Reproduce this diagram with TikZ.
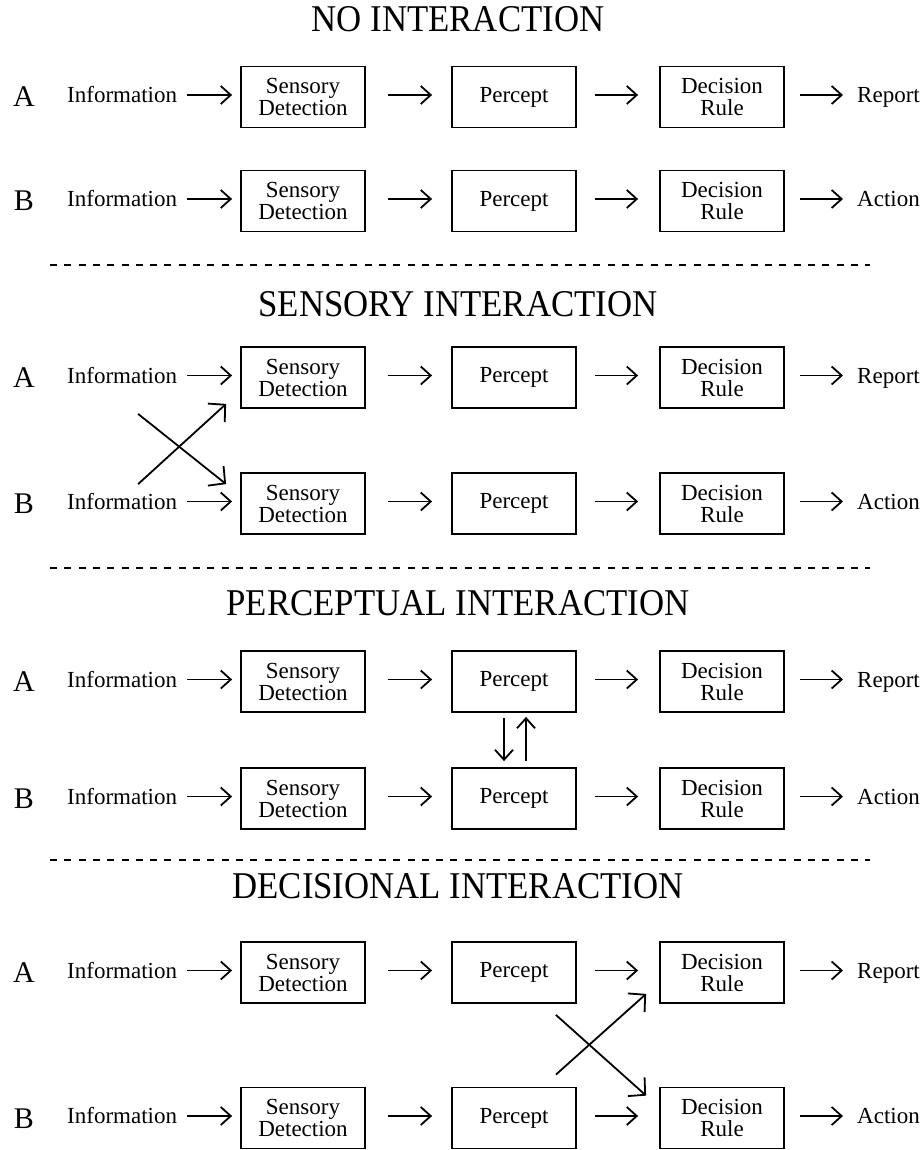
\documentclass[tikz,border=0pt]{standalone}
\usepackage{graphicx}
\usepackage{fontspec}
\setmainfont{Liberation Serif}
\usetikzlibrary{arrows.meta,calc}

\tikzset{
  stage/.style={draw, line width=1.8pt, minimum width=124pt, minimum height=61pt,
    inner sep=0pt, align=center, font=\fontsize{23}{22}\selectfont},
  lbl/.style={font=\fontsize{23}{26}\selectfont, inner sep=0pt, anchor=base west},
  rowtag/.style={font=\fontsize{30}{32}\selectfont, inner sep=0pt, anchor=base},
  heading/.style={font=\fontsize{37.8}{40}\selectfont, inner sep=0pt, anchor=base},
  flow/.style={line width=1.8pt, -{Straight Barb[length=10pt,width=18pt]}},
  cross/.style={line width=1.8pt, -{Straight Barb[length=12pt,width=25pt]}},
  divider/.style={line width=2pt, dash pattern=on 7pt off 7.3pt},
}

% One processing chain: tag, input, three stages, outcome
\newcommand{\pathway}[4]{%
  \node[rowtag] (#1tag) at (24,#2+10) {#3};
  \node[lbl] (#1info) at (67,#2+5.5) {Information};
  \node[stage] (#1sd) at (303,#2) {Sensory\\Detection};
  \node[stage] (#1pc) at (514,#2) {Percept};
  \node[stage] (#1dr) at (722,#2) {Decision\\Rule};
  \node[lbl] (#1out) at (857,#2+5.5) {#4};
  \draw[flow] ($(#1sd.west -| #1info.east)+(10pt,2pt)$) -- ([xshift=-8pt,yshift=2pt]#1sd.west);
  \draw[flow] ([xshift=22pt,yshift=2pt]#1sd.east) -- ([xshift=-19pt,yshift=2pt]#1pc.west);
  \draw[flow] ([xshift=18pt,yshift=2pt]#1pc.east) -- ([xshift=-21pt,yshift=2pt]#1dr.west);
  \draw[flow] ([xshift=15pt,yshift=2pt]#1dr.east) -- ($(#1dr.east -| #1out.west)+(-14pt,2pt)$);
}

\begin{document}
\begin{tikzpicture}[x=1pt, y=-1pt]
\useasboundingbox (0,0) rectangle (923,1150);

% --- no interaction
\node[heading] (t1) at (458,32) {\scalebox{0.92}[1]{NO INTERACTION}};
\pathway{na}{97}{A}{Report}
\pathway{nb}{201}{B}{Action}

\draw[divider] (50,265) -- (870,265);

% --- sensory interaction
\node[heading] (t2) at (458,316) {\scalebox{0.92}[1]{SENSORY INTERACTION}};
\pathway{sa}{377.5}{A}{Report}
\pathway{sb}{503.5}{B}{Action}
\draw[cross] ([xshift=-102pt,yshift=-5pt]sasd.south west) -- ([xshift=-14pt,yshift=-12pt]sbsd.north west);
\draw[cross] ([xshift=-102pt,yshift=-12pt]sbsd.north west) -- ([xshift=-14pt,yshift=5pt]sasd.south west);

\draw[divider] (50,568) -- (870,568);

% --- perceptual interaction
\node[heading] (t3) at (458,615) {\scalebox{0.92}[1]{PERCEPTUAL INTERACTION}};
\pathway{pa}{681.5}{A}{Report}
\pathway{pb}{798.5}{B}{Action}
\draw[flow] ([xshift=-10pt,yshift=-5pt]papc.south) -- ([xshift=-10pt,yshift=6pt]pbpc.north);
\draw[flow] ([xshift=12pt,yshift=6pt]pbpc.north) -- ([xshift=12pt,yshift=-4pt]papc.south);

\draw[divider] (50,860) -- (870,860);

% --- decisional interaction
\node[heading] (t4) at (458,898) {\scalebox{0.92}[1]{DECISIONAL INTERACTION}};
\pathway{da}{972.5}{A}{Report}
\pathway{db}{1118}{B}{Action}
\draw[cross] ([xshift=-21pt,yshift=-11pt]dapc.south east) -- ([xshift=-13pt,yshift=-9pt]dbdr.north west);
\draw[cross] ([xshift=-21pt,yshift=12pt]dbpc.north east) -- ([xshift=-13pt,yshift=10pt]dadr.south west);
\end{tikzpicture}
\end{document}
